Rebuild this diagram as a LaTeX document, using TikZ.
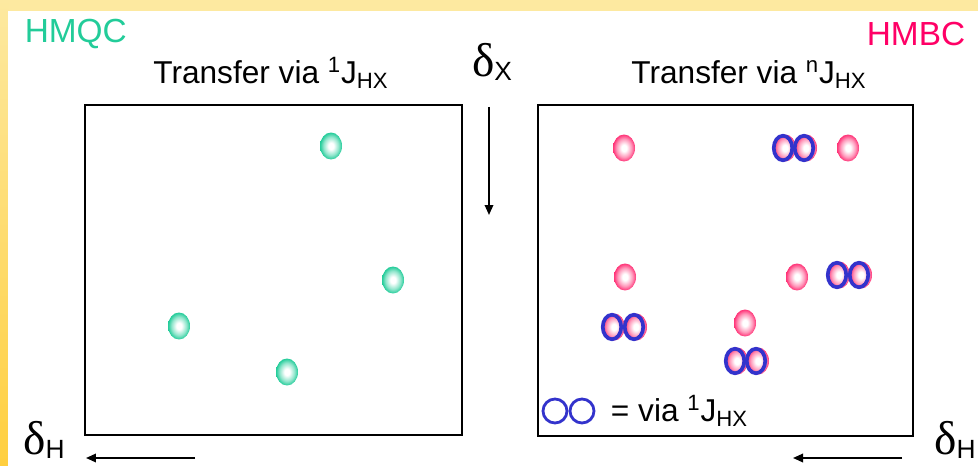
\documentclass[tikz,border=0pt]{standalone}
\usepackage{fontspec}
\setmainfont{Liberation Sans}
\newfontfamily\greekfont{Liberation Serif}
\usetikzlibrary{arrows.meta, positioning, shapes.geometric}
\definecolor{cgreen}{HTML}{22CC99}
\definecolor{cpink}{HTML}{FF0066}
\definecolor{cspot}{HTML}{FF3377}
\definecolor{cblue}{HTML}{3333CC}
\definecolor{cpale}{HTML}{FDE9A0}
\definecolor{cgold}{HTML}{FFCF3F}
\pgfdeclareradialshading{greenball}{\pgfpoint{0bp}{0bp}}{color(0bp)=(white); color(6bp)=(white); color(17bp)=(cgreen!50); color(25bp)=(cgreen); color(50bp)=(cgreen)}
\pgfdeclareradialshading{pinkball}{\pgfpoint{0bp}{0bp}}{color(0bp)=(white); color(6bp)=(white); color(17bp)=(cspot!50); color(25bp)=(cspot); color(50bp)=(cspot)}
\newcommand{\dshift}[1]{{\greekfont\fontsize{27}{30}\selectfont δ}\raisebox{-0.5ex}{\fontsize{15}{17}\selectfont #1}}
\newcommand{\coupling}[1]{\textsuperscript{#1}J\textsubscript{HX}}
\tikzset{
  every picture/.style={line width=1.1pt},
  frame/.style={draw=black, line width=1.3pt},
  axis/.style={-{Triangle[length=2mm, width=1.7mm]}, draw=black, line width=1pt},
  heading/.style={font=\fontsize{19}{22}\selectfont, text=#1},
  title/.style={font=\fontsize{18}{21}\selectfont, inner sep=0pt},
  spot/.style={ellipse, minimum width=0.44cm, minimum height=0.54cm, inner sep=0pt, shading=#1, shade},
  ring/.style={ellipse, draw=cblue, line width=2.1pt, minimum width=0.37cm, minimum height=0.49cm, inner sep=0pt},
}

\begin{document}
\begin{tikzpicture}[x=0.02cm, y=-0.02cm]
  \useasboundingbox (0,0) rectangle (978,466);
  % page: pale strips on top and left
  \fill[cpale] (0,0) rectangle (978,11);
  \shade[top color=cpale, bottom color=cgold] (0,0) rectangle (8,466);
  \fill[white] (8,11) rectangle (978,466);
  % the two spectra
  \draw[frame] (85,105) rectangle (462,435);
  \draw[frame] (538,105) rectangle (913,436);
  \node[heading=cgreen, anchor=west] (hmqc) at (18,34) {HMQC};
  \node[heading=cpink, anchor=east] (hmbc) at (972,34) {HMBC};
  \node[title, anchor=base] (tone) at (271,84) {Transfer via \coupling{1}};
  \node[title, anchor=base] (tmany) at (749,84) {Transfer via \coupling{n}};
  % shift axes
  \node[inner sep=0pt] (dx) at (492,62) {\dshift{X}};
  \node[inner sep=0pt] (dhl) at (44,440) {\dshift{H}};
  \node[inner sep=0pt] (dhr) at (955,440) {\dshift{H}};
  \coordinate (xtop) at (489,107);
  \coordinate (xbot) at (489,215);
  \coordinate (hl0) at (195,458);
  \coordinate (hl1) at (86,458);
  \coordinate (hr0) at (902,458);
  \coordinate (hr1) at (793,458);
  \draw[axis] (xtop) -- (xbot);
  \draw[axis] (hl0) -- (hl1);
  \draw[axis] (hr0) -- (hr1);
  % one-bond peaks
  \foreach \px/\py [count=\i] in {331/146, 393/280, 179/326, 287/372}
    \node[spot=greenball] (g\i) at (\px,\py) {};
  % long-range peaks
  \foreach \px/\py [count=\i] in {624/148, 848/148, 625/277, 797/277, 745/323}
    \node[spot=pinkball] (p\i) at (\px,\py) {};
  \foreach \px/\py [count=\i] in {783/148, 804/148, 837/275, 859/275, 612/327, 634/327, 735/361, 756/361} {
    \node[spot=pinkball] (d\i) at (\px+2,\py) {};
    \node[ring] (r\i) at (\px,\py) {};
  }
  % legend
  \node[ring, minimum width=0.48cm, minimum height=0.48cm, line width=1.6pt] (lone) at (555,411) {};
  \node[ring, minimum width=0.48cm, minimum height=0.48cm, line width=1.6pt] (ltwo) at (582,411) {};
  \node[title, anchor=west] (legend) at (610,411) {= via \coupling{1}};
\end{tikzpicture}
\end{document}
